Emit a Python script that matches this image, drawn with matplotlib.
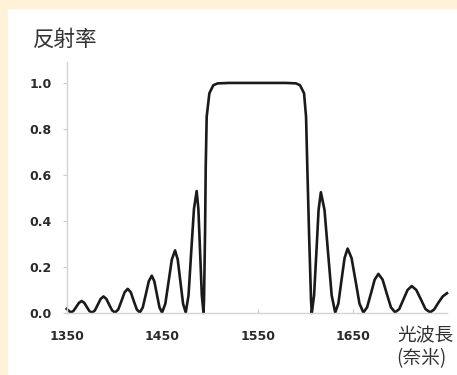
import matplotlib
matplotlib.use("Agg")
import matplotlib.pyplot as plt
from matplotlib.patches import Rectangle

# Reflection spectrum (wavelength in nm, reflectance)
wavelength = [
    1350, 1354,
    1356.9, 1359.9, 1362.8, 1365.7, 1368.4, 1371.1, 1373.8, 1376.5,
    1379.5, 1382.5, 1385.5, 1388.5, 1391.5, 1394.5, 1397.6, 1400.6,
    1403.9, 1407.3, 1410.6, 1413.9, 1417.1, 1420.2, 1423.4, 1426.5,
    1429.6, 1432.8, 1435.9, 1439.0, 1441.7, 1444.4, 1447.1, 1449.8,
    1453.2, 1456.6, 1460.0, 1463.4, 1466.2, 1469.0, 1471.8, 1474.6,
    1477.5, 1480.3, 1483.2, 1486.0, 1487.8, 1489.6, 1491.4, 1493.2,
    1493.7, 1494.8, 1495.5, 1496.5, 1499.3, 1503.4, 1508, 1520, 1550,
    1580, 1590, 1594.2, 1598.4, 1600.5, 1601.8, 1603.6, 1605.7, 1606.5,
    1608.9, 1611.3, 1613.6, 1616.0, 1619.8, 1623.5, 1627.3, 1631.0,
    1634.3, 1637.5, 1640.8, 1644.0, 1648.1, 1652.3, 1656.4, 1660.5,
    1664.4, 1668.4, 1672.3, 1676.2, 1680.6, 1684.9, 1689.3, 1693.6,
    1698.0, 1702.4, 1706.7, 1711.1, 1715.9, 1720.7, 1725.5, 1730.3,
    1734.5, 1739.0, 1743.5, 1748.0,
]
reflectance = [
    0.018, 0.003,
    0.008, 0.026, 0.044, 0.052, 0.044, 0.026, 0.008, 0.002,
    0.011, 0.036, 0.061, 0.072, 0.061, 0.036, 0.011, 0.002,
    0.015, 0.052, 0.090, 0.105, 0.090, 0.052, 0.015, 0.002,
    0.024, 0.081, 0.138, 0.162, 0.138, 0.081, 0.024, 0.002,
    0.040, 0.136, 0.232, 0.272, 0.232, 0.136, 0.040, 0.002,
    0.077, 0.265, 0.453, 0.530, 0.453, 0.265, 0.077, 0.0,
    0.057, 0.350, 0.636, 0.853, 0.955, 0.990, 0.998, 1.0, 1.0,
    1.0, 0.998, 0.990, 0.955, 0.853, 0.636, 0.350, 0.057, 0.0,
    0.077, 0.263, 0.448, 0.525, 0.448, 0.263, 0.077, 0.002,
    0.041, 0.140, 0.239, 0.280, 0.239, 0.140, 0.041, 0.002,
    0.025, 0.085, 0.145, 0.170, 0.145, 0.085, 0.025, 0.003,
    0.017, 0.059, 0.100, 0.117, 0.100, 0.059, 0.017, 0.003,
    0.015, 0.045, 0.072, 0.086,
]
x_ticks = [1350, 1450, 1550, 1650]
y_ticks = [0.0, 0.2, 0.4, 0.6, 0.8, 1.0]

cjk = ["Noto Sans CJK TC", "DejaVu Sans"]

W, H = 457, 375
fig = plt.figure(figsize=(W / 100, H / 100), dpi=100)
fig.patch.set_facecolor("#fff2d8")
# white panel behind everything
fig.patches.append(Rectangle((8 / W, 0), 1, 1 - 9 / H, transform=fig.transFigure,
                             facecolor="white", edgecolor="none", zorder=-10))

left, right = 66.7 / W, 447 / W
bottom, top = 1 - 313 / H, 1 - 62 / H
ax = fig.add_axes([left, bottom, right - left, top - bottom])
ax.set_facecolor("none")
ax.set_zorder(2)

ax.plot(wavelength, reflectance, color="#1a1a1a", linewidth=1.9, clip_on=False,
        solid_joinstyle="round")

ax.set_xlim(1350, 1748)
ax.set_ylim(0, 1.091)
ax.set_xticks(x_ticks)
ax.set_yticks(y_ticks)
ax.set_yticklabels(["%.1f" % v for v in y_ticks])

for s in ["top", "right"]:
    ax.spines[s].set_visible(False)
for s in ["left", "bottom"]:
    ax.spines[s].set_color("#d4d4d4")
    ax.spines[s].set_linewidth(1.0)

ax.tick_params(axis="y", direction="out", length=3, color="#cccccc", pad=8)
ax.tick_params(axis="x", direction="in", length=3, color="#cccccc", pad=12)
for lab in ax.get_xticklabels() + ax.get_yticklabels():
    lab.set_fontfamily("DejaVu Sans")
    lab.set_fontweight("bold")
    lab.set_fontsize(9)
    lab.set_color("#2a2a2a")

fig.text(33 / W, 1 - 40 / H, "反射率", family=cjk, fontsize=15.5, color="#333333",
         ha="left", va="center", zorder=3)
fig.text(397 / W, 1 - 336 / H, "光波長", family=cjk, fontsize=13.5, color="#333333",
         ha="left", va="center", zorder=3)
fig.text(396 / W, 1 - 359 / H, "(奈米)", family=cjk, fontsize=13.5, color="#333333",
         ha="left", va="center", zorder=3)

fig.savefig("out.png", dpi=100, facecolor=fig.get_facecolor())
